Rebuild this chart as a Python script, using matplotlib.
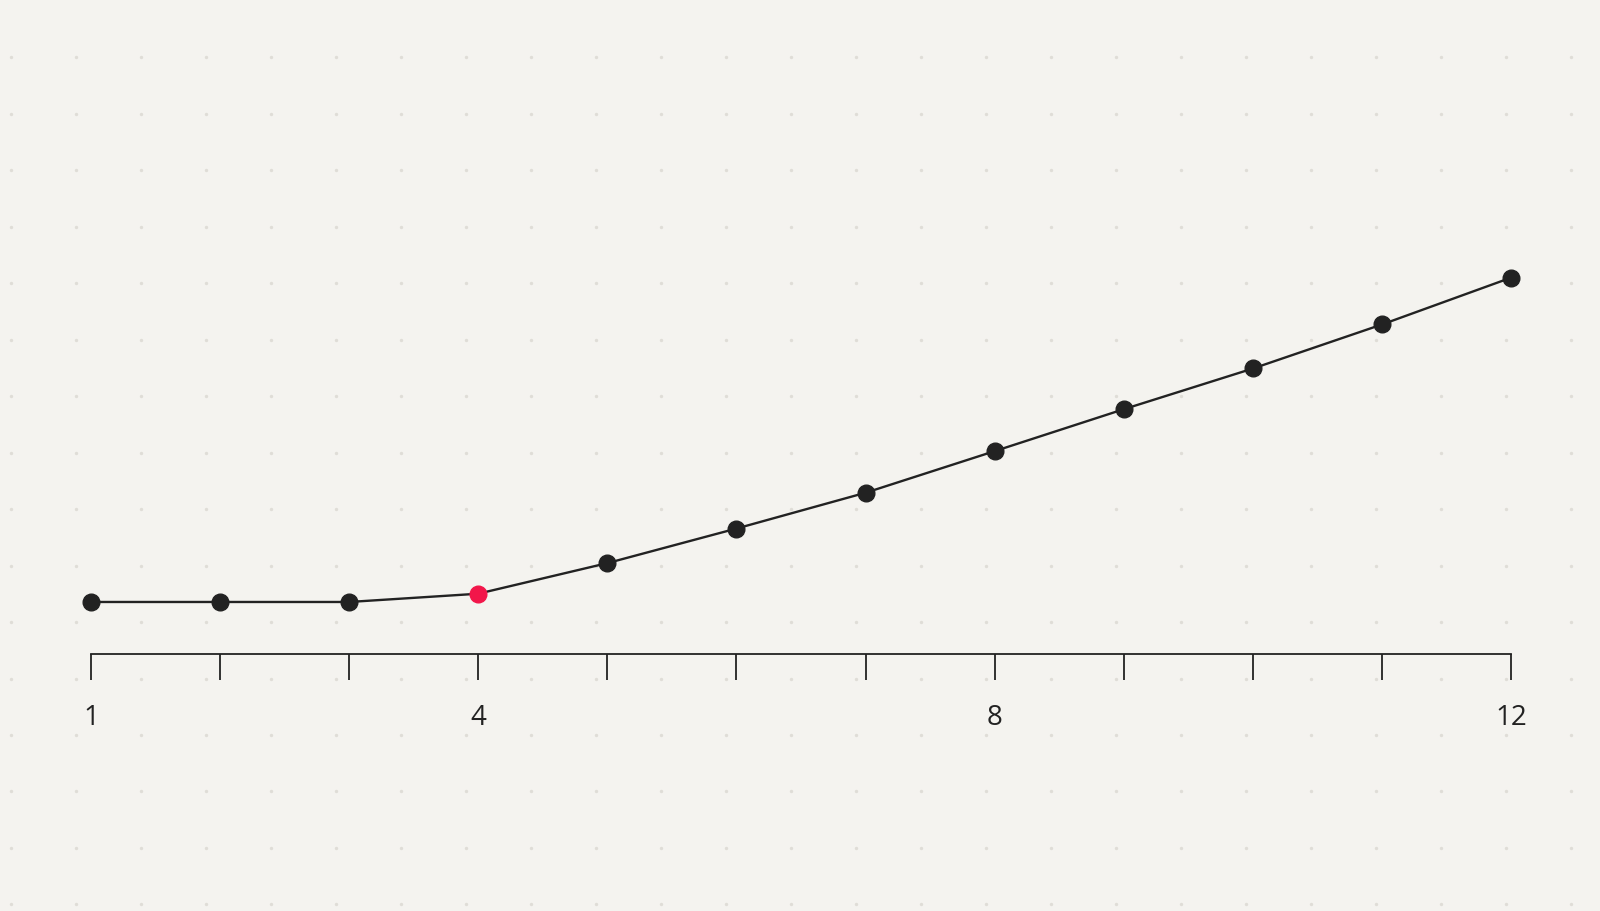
import numpy as np
import matplotlib.pyplot as plt

# data (no y axis shown, values in arbitrary units)
months = [1, 2, 3, 4, 5, 6, 7, 8, 9, 10, 11, 12]
values = [100, 100, 100, 102.7, 112.7, 124, 135.7, 149.3, 163, 176.3, 190.7, 206]
highlight = 4
tick_labels = {1: '1', 4: '4', 8: '8', 12: '12'}

bg = '#f4f3ef'
ink = '#222222'
red = '#f2164a'

fig = plt.figure(figsize=(16, 9.12), dpi=100, facecolor=bg)

# faint dot grid in the background
dot_ax = fig.add_axes([0, 0, 1, 1], zorder=0)
dot_ax.set_xlim(0, 1600)
dot_ax.set_ylim(912, 0)
dot_ax.axis('off')
gx, gy = np.meshgrid(np.arange(11, 1600, 65), np.arange(58, 912, 56.5))
dot_ax.scatter(gx.ravel(), gy.ravel(), s=6, color='#dfddd7', linewidths=0)

ax = fig.add_axes([0.0568, 0.2818, 0.8877, 0.662], zorder=1)
ax.patch.set_alpha(0)
ax.plot(months, values, color=ink, lw=1.7, zorder=2, clip_on=False)
others = [m for m in months if m != highlight]
ax.plot(others, [values[months.index(m)] for m in others], 'o', color=ink,
        markersize=12, zorder=3, clip_on=False)
ax.plot([highlight], [values[months.index(highlight)]], 'o', color=red,
        markersize=12, zorder=4, clip_on=False)

ax.set_xlim(1, 12)
ax.set_ylim(83, 280.3)
for s in ['top', 'right', 'left']:
    ax.spines[s].set_visible(False)
ax.spines['bottom'].set_color(ink)
ax.spines['bottom'].set_linewidth(1.3)
ax.set_yticks([])
ax.set_xticks(months)
ax.set_xticklabels([tick_labels.get(m, '') for m in months])
ax.tick_params(axis='x', direction='out', length=18.5, width=1.3, color=ink,
               pad=17, labelsize=20, labelcolor=ink)
for lab in ax.get_xticklabels():
    lab.set_fontfamily('Open Sans')

fig.savefig('out.png', dpi=100, facecolor=bg)
